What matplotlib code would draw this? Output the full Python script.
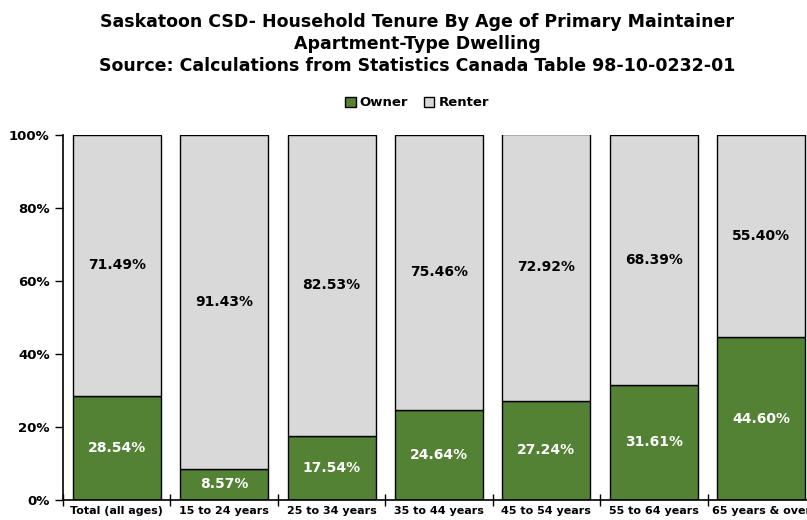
import matplotlib.pyplot as plt
from matplotlib.ticker import FuncFormatter

categories = ["Total (all ages)", "15 to 24 years", "25 to 34 years", "35 to 44 years",
              "45 to 54 years", "55 to 64 years", "65 years & over"]
owner = [28.54, 8.57, 17.54, 24.64, 27.24, 31.61, 44.60]
renter = [71.49, 91.43, 82.53, 75.46, 72.92, 68.39, 55.40]

green = "#548235"
grey = "#d9d9d9"

fig = plt.figure(figsize=(8.07, 5.2), dpi=100)
ax = fig.add_axes([63 / 807, 20 / 520, 752 / 807, 365 / 520])

x = range(len(categories))
b1 = ax.bar(x, owner, width=0.82, color=green, edgecolor="black", linewidth=1, label="Owner")
b2 = ax.bar(x, renter, width=0.82, bottom=owner, color=grey, edgecolor="black", linewidth=1, label="Renter")

for i in x:
    ax.text(i, owner[i] / 2, f"{owner[i]:.2f}%", ha="center", va="center",
            color="white", fontsize=10, fontweight="bold")
    ax.text(i, owner[i] + renter[i] / 2, f"{renter[i]:.2f}%", ha="center", va="center",
            color="black", fontsize=10, fontweight="bold")

ax.set_xlim(-0.5, len(categories) - 0.5)
ax.set_ylim(0, 100)
ax.set_yticks([0, 20, 40, 60, 80, 100])
ax.yaxis.set_major_formatter(FuncFormatter(lambda v, _: f"{v:.0f}%"))
ax.set_xticks([i - 0.5 for i in x], minor=False)
ax.set_xticklabels([])
ax.set_xticks(list(x), minor=True)
ax.set_xticklabels(categories, minor=True)
ax.tick_params(axis="x", which="major", direction="inout", length=8, width=1)
ax.tick_params(axis="x", which="minor", length=0, pad=4)
ax.tick_params(axis="y", direction="out", length=6, width=1)
for lbl in ax.get_xticklabels(minor=True):
    lbl.set_fontweight("bold")
    lbl.set_fontsize(8)
for lbl in ax.get_yticklabels():
    lbl.set_fontweight("bold")
    lbl.set_fontsize(9.5)

for side in ["top", "right"]:
    ax.spines[side].set_visible(False)
ax.spines["left"].set_linewidth(1.2)
ax.spines["bottom"].set_linewidth(1.2)

fig.text(417 / 807, 1 - 22 / 520, "Saskatoon CSD- Household Tenure By Age of Primary Maintainer",
         ha="center", va="center", fontsize=12.5, fontweight="bold")
fig.text(417 / 807, 1 - 44 / 520, "Apartment-Type Dwelling",
         ha="center", va="center", fontsize=12.5, fontweight="bold")
fig.text(417 / 807, 1 - 66 / 520, "Source: Calculations from Statistics Canada Table 98-10-0232-01",
         ha="center", va="center", fontsize=12.5, fontweight="bold")

leg = fig.legend(handles=[b1, b2], loc="center", bbox_to_anchor=(417 / 807, 1 - 103 / 520),
                 ncol=2, frameon=False, fontsize=9.5, handlelength=0.8, handleheight=0.8,
                 handletextpad=0.3, columnspacing=1.2)
for t in leg.get_texts():
    t.set_fontweight("bold")

fig.savefig("out.png", dpi=100)
